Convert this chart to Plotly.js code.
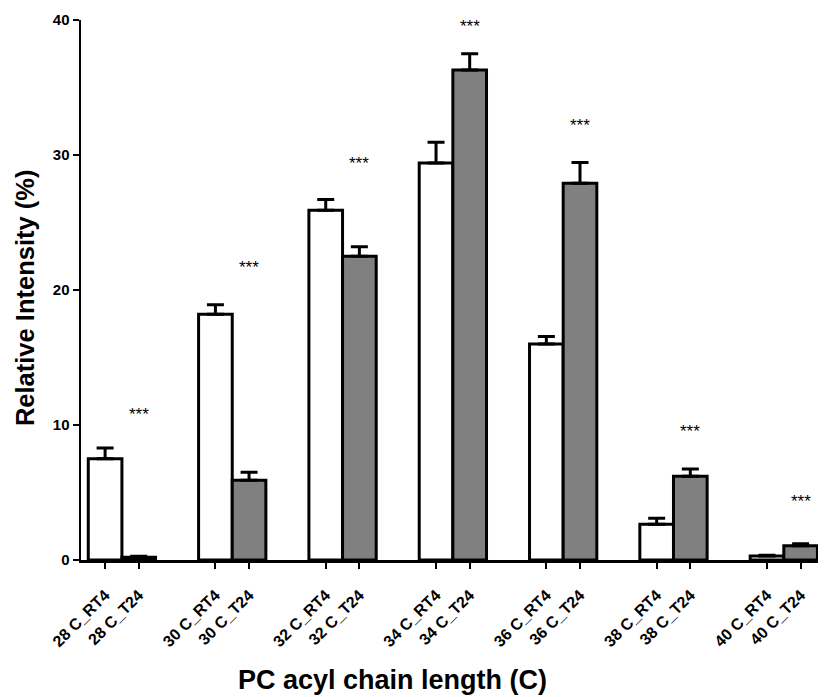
<!DOCTYPE html>
<html>
<head>
<meta charset="utf-8">
<script src="https://cdn.plot.ly/plotly-3.0.1.min.js"></script>
<style>
  html, body { margin: 0; padding: 0; background: #ffffff; }
  #chart { width: 824px; height: 697px; }
</style>
</head>
<body>
<div id="chart"></div>
<script>
// ---- data ----
const chainLengths = ['28', '30', '32', '34', '36', '38', '40'];
const rt4Mean = [7.5, 18.2, 25.9, 29.4, 16.0, 2.65, 0.3];
const rt4Err  = [0.8, 0.7, 0.8, 1.55, 0.55, 0.45, 0.05];
const t24Mean = [0.2, 5.9, 22.5, 36.3, 27.9, 6.2, 1.05];
const t24Err  = [0.08, 0.6, 0.7, 1.2, 1.55, 0.55, 0.15];
const sigLabel = ['***', '***', '***', '***', '***', '***', '***'];
const sigLevel = [10.8, 21.7, 29.4, 39.5, 32.2, 9.5, 4.3];
const xTitle = 'PC acyl chain length (C)';
const yTitle = 'Relative Intensity (%)';

// ---- layout helpers ----
const FONT = 'Arial, "Liberation Sans", Helvetica, sans-serif';
const bargap = 0.39;
const half = (1 - bargap) / 4;       // offset of each bar centre from group centre
const idx = chainLengths.map((_, i) => i);

const tickvals = [], ticktext = [];
chainLengths.forEach((c, i) => {
  tickvals.push(i - half, i + half);
  ticktext.push(c + ' C_RT4', c + ' C_T24');
});

const errStyle = (arr) => ({
  type: 'data', symmetric: false, array: arr,
  arrayminus: arr.map(() => 0),
  color: '#000000', thickness: 3, width: 8.5
});

const traces = [
  {
    type: 'bar', name: 'RT4', x: idx, y: rt4Mean,
    marker: { color: '#ffffff', line: { color: '#000000', width: 3 } },
    error_y: errStyle(rt4Err), hoverinfo: 'y'
  },
  {
    type: 'bar', name: 'T24', x: idx, y: t24Mean,
    marker: { color: '#808080', line: { color: '#000000', width: 3 } },
    error_y: errStyle(t24Err), hoverinfo: 'y'
  }
];

const annotations = chainLengths.map((c, i) => ({
  x: i + half, y: sigLevel[i], xref: 'x', yref: 'y',
  text: sigLabel[i], showarrow: false,
  xanchor: 'center', yanchor: 'middle',
  font: { family: FONT, size: 17, color: '#000000' }
}));

// axis titles (placed like the original, slightly off-centre)
annotations.push({
  xref: 'paper', yref: 'paper', x: 0.423, y: -0.222,
  xanchor: 'center', yanchor: 'middle', showarrow: false,
  text: xTitle,
  font: { family: FONT, size: 27, weight: 'bold', color: '#000000' }
});
annotations.push({
  xref: 'paper', yref: 'paper', x: -0.076, y: 0.485,
  xanchor: 'center', yanchor: 'middle', showarrow: false,
  textangle: -90, text: yTitle,
  font: { family: FONT, size: 25.5, weight: 'bold', color: '#000000' }
});

const layout = {
  width: 824, height: 697,
  margin: { l: 81, r: 6, t: 20, b: 137 },
  paper_bgcolor: '#ffffff', plot_bgcolor: '#ffffff',
  showlegend: false,
  barmode: 'group', bargap: bargap, bargroupgap: 0,
  font: { family: FONT, color: '#000000' },
  xaxis: {
    range: [-0.371, 6.31],
    tickmode: 'array', tickvals: tickvals, ticktext: ticktext,
    tickangle: -45,
    tickfont: { family: FONT, size: 16, weight: 'bold', color: '#000000' },
    ticks: 'outside', ticklen: 6, tickwidth: 2, tickcolor: '#000000',
    ticklabelstandoff: 11,
    showline: true, linecolor: '#000000', linewidth: 2.5,
    showgrid: false, zeroline: false, automargin: false
  },
  yaxis: {
    range: [0, 40],
    tickvals: [0, 10, 20, 30, 40],
    tickfont: { family: FONT, size: 15, weight: 'bold', color: '#000000' },
    ticks: 'outside', ticklen: 6, tickwidth: 2, tickcolor: '#000000',
    showline: true, linecolor: '#000000', linewidth: 2.5,
    showgrid: false, zeroline: false, automargin: false
  },
  annotations: annotations
};

Plotly.newPlot('chart', traces, layout, { displayModeBar: false, staticPlot: true });
</script>
</body>
</html>
